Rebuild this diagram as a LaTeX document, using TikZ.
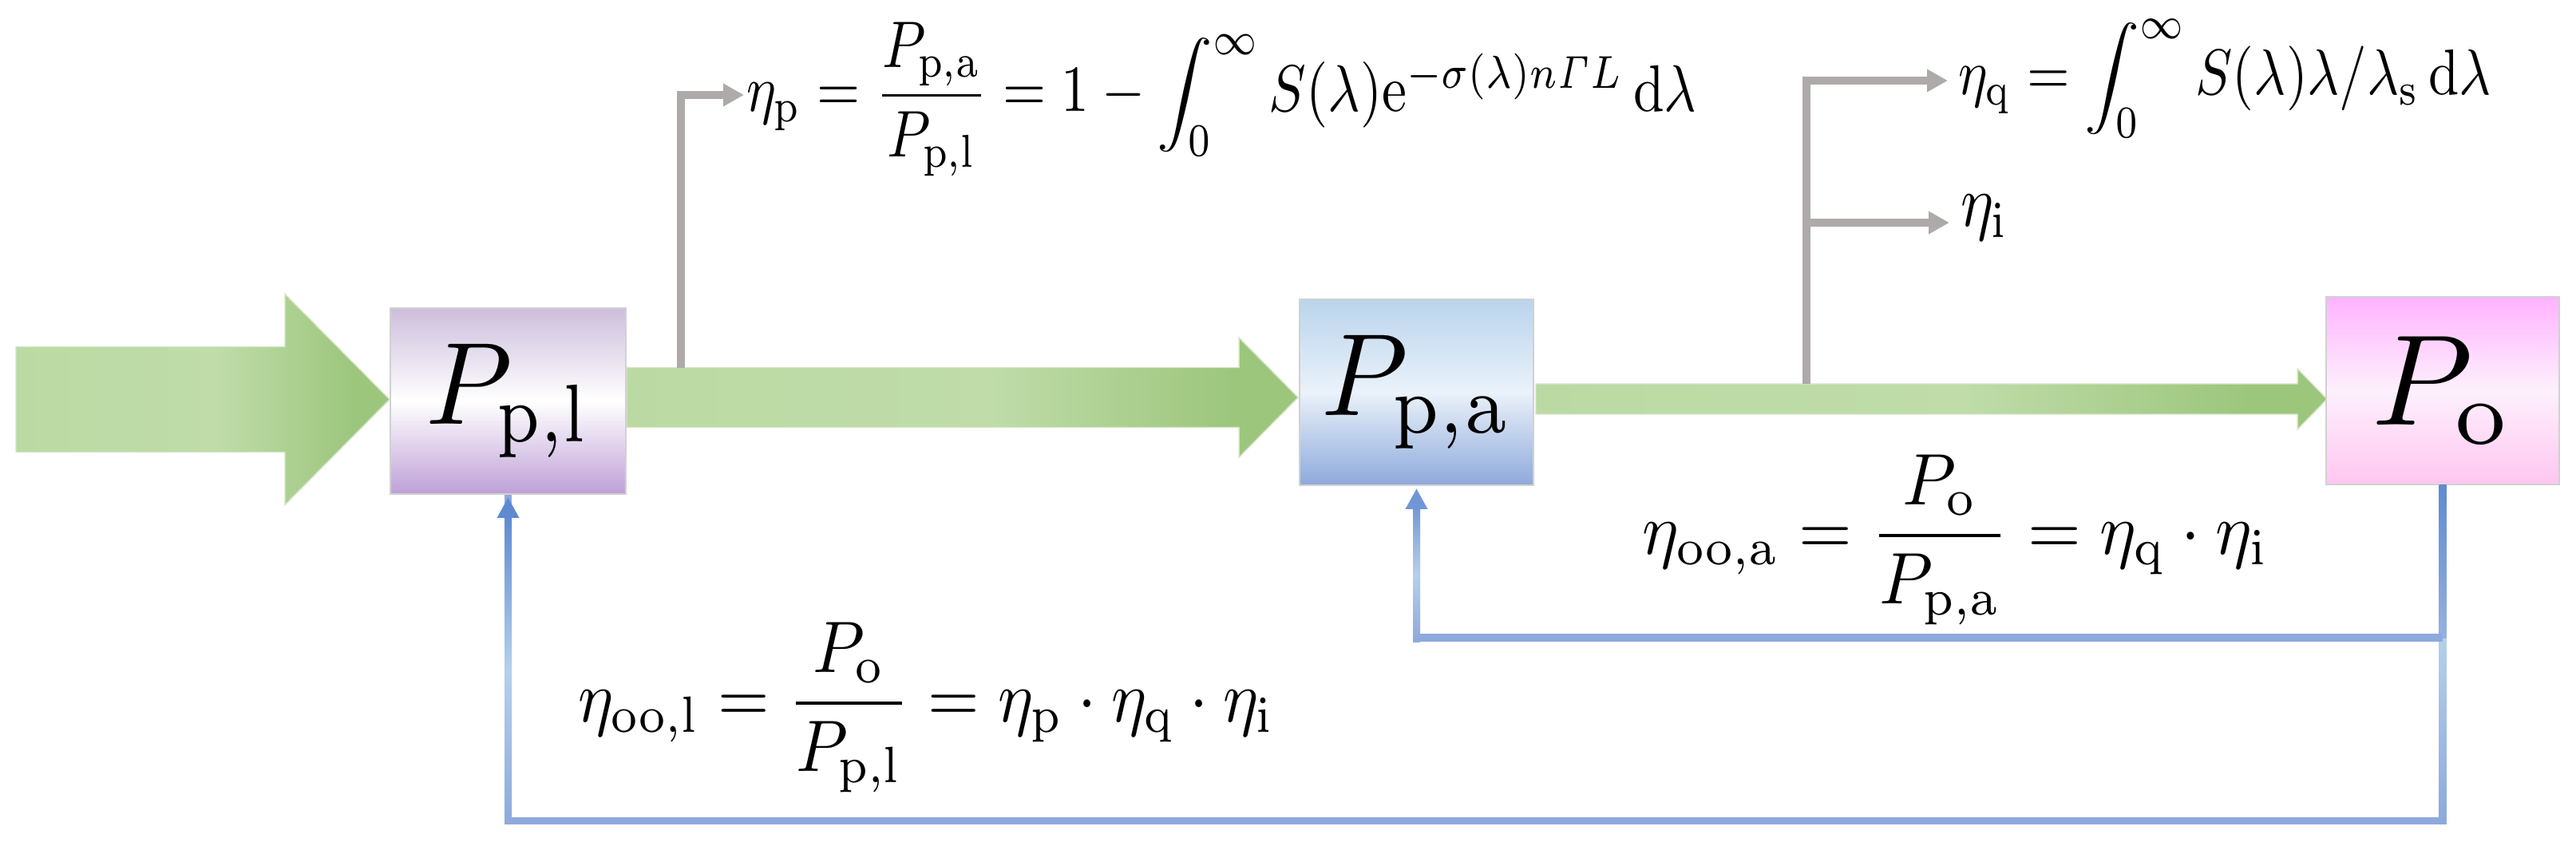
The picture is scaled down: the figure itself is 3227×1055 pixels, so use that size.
\documentclass[tikz,border=0pt]{standalone}
\usepackage{amsmath}
\usetikzlibrary{arrows.meta,calc}
\definecolor{grayline}{HTML}{AEAAAA}
\definecolor{blueTop}{HTML}{5F8AD1}
\definecolor{blueMid}{HTML}{B5D0EB}
\definecolor{blueLow}{HTML}{8EA9DB}
\definecolor{greenA}{HTML}{BBDAA3}
\definecolor{greenB}{HTML}{BFDCA9}
\definecolor{greenC}{HTML}{9DC67D}
\definecolor{greenEdge}{HTML}{D5E6C8}
\definecolor{violetTop}{RGB}{205,190,220}
\definecolor{violetLow}{RGB}{190,160,215}
\definecolor{skyTop}{RGB}{186,212,236}
\definecolor{skyMid}{RGB}{234,242,250}
\definecolor{pinkTop}{RGB}{255,179,255}
\definecolor{pinkMid}{RGB}{253,240,252}
\definecolor{pinkLow}{RGB}{255,198,240}
\pgfdeclarehorizontalshading{flowshade}{100bp}{color(0bp)=(greenA); color(25bp)=(greenA); color(52bp)=(greenB); color(70bp)=(greenC); color(100bp)=(greenC)}
\newcommand{\bigP}[4]{\scalebox{#1}[#2]{$P_{\scalebox{#3}[1]{$\scriptstyle\mathrm{#4}$}}$}}
\newcommand{\lowint}{\mathop{\vcenter{\hbox{\scalebox{1}[0.78]{$\displaystyle\int$}}}}\nolimits_{\kern-4.4pt 0}^{\infty}}
\newcommand{\flowarrow}[5]{%
  \coordinate (fu) at ($(#1)+(0,-#5)$);
  \coordinate (fd) at ($(#1)+(0,#5)$);
  \path[shading=flowshade,draw=greenEdge,line width=0.4pt]
    (#1) -- ($(#1)+(-#3,-#4)$) -- ($(#1)+(-#3,-#5)$) -- (#2 |- fu) -- (#2 |- fd)
    -- ($(#1)+(-#3,#5)$) -- ($(#1)+(-#3,#4)$) -- cycle;
}
\tikzset{
  x=0.01cm,y=-0.01cm,
  powerbox/.style={rectangle,inner sep=0pt,draw=black!18,line width=0.5pt},
  formula/.style={inner sep=0pt,anchor=base west},
  grayc/.style={draw=grayline,line width=0.1cm,-{Triangle[length=0.26cm,width=0.27cm]}},
  bluec/.style={draw=blueLow,line width=0.09cm},
  bluetip/.style={-{Triangle[length=0.26cm,width=0.26cm]},shorten >=0.03cm},
}
\begin{document}
\begin{tikzpicture}
\useasboundingbox (0,0) rectangle (3227,1055);
\coordinate (pb1) at (636.5,502.5);
\coordinate (pb2) at (1774.5,491.5);
\coordinate (pb3) at (3060,489.5);
\node[powerbox,draw=none,minimum width=2.95cm,minimum height=2.33cm] (a1) at (pb1) {};
\node[powerbox,draw=none,minimum width=2.93cm,minimum height=2.33cm] (a2) at (pb2) {};
\node[powerbox,draw=none,minimum width=2.92cm,minimum height=2.35cm] (a3) at (pb3) {};
\coordinate (start0) at (20,500);
\coordinate (t1) at ($(a1.west)+(0,-2)$);
\coordinate (t2) at ($(a2.west)+(-1,6.5)$);
\coordinate (t3) at ($(a3.west)+(2,10.5)$);
\flowarrow{t1}{start0}{131}{132}{66}
\flowarrow{t2}{a1.east}{74}{75}{37.5}
\coordinate (s3) at (1924,500);
\flowarrow{t3}{s3}{37}{38}{19}
\node[powerbox,minimum width=2.95cm,minimum height=2.33cm,top color=violetTop,bottom color=violetLow,middle color=white] (b1) at (pb1) {\bigP{3.95}{4.17}{0.88}{p,l}};
\node[powerbox,minimum width=2.93cm,minimum height=2.33cm,top color=skyTop,bottom color=blueLow,middle color=skyMid] (b2) at (pb2) {\bigP{3.95}{4.17}{0.95}{p,a}};
\node[powerbox,minimum width=2.92cm,minimum height=2.35cm,top color=pinkTop,bottom color=pinkLow,middle color=pinkMid] (b3) at (pb3) {\bigP{4.6}{4.6}{1}{o}};
\node[formula,xscale=1.98,yscale=2.35] (fp) at (934,140) {$\eta_{\mathrm{p}}=\dfrac{P_{\mathrm{p,a}}}{P_{\mathrm{p,l}}}=1-\lowint S(\lambda)\mathrm{e}^{-\sigma(\lambda)n\mathit{\Gamma}L}\,\mathrm{d}\lambda$};
\node[formula,xscale=1.96,yscale=2.3] (fq) at (2452,119) {$\eta_{\mathrm{q}}=\lowint S(\lambda)\lambda/\lambda_{\mathrm{s}}\,\mathrm{d}\lambda$};
\node[formula,xscale=2.2,yscale=2.6] (fi) at (2455,284) {$\eta_{\mathrm{i}}$};
\node[formula,xscale=2.44,yscale=2.6] (fa) at (2056,694) {$\eta_{\mathrm{oo,a}}=\dfrac{P_{\mathrm{o}}}{P_{\mathrm{p,a}}}=\eta_{\mathrm{q}}\cdot\eta_{\mathrm{i}}$};
\node[formula,xscale=2.36,yscale=2.6] (fl) at (723,904) {$\eta_{\mathrm{oo,l}}=\dfrac{P_{\mathrm{o}}}{P_{\mathrm{p,l}}}=\eta_{\mathrm{p}}\cdot\eta_{\mathrm{q}}\cdot\eta_{\mathrm{i}}$};
\coordinate (gp0) at (853,461);
\coordinate (gp1) at (932,119);
\coordinate (gq0) at (2263,481);
\coordinate (gq1) at (2440,101);
\coordinate (gi0) at (2263,279);
\coordinate (gi1) at (2442,279);
\draw[grayc] (gp0) |- (gp1);
\draw[grayc] (gq0) |- (gq1);
\draw[grayc] (gi0) -- (gi1);
\coordinate (c1) at (636.5,1028);
\coordinate (c2) at (1774.5,799);
\coordinate (j1) at (3060,799);
\draw[bluec] (b3.south) |- (c1) -- (b1.south);
\shade[top color=blueTop,bottom color=blueLow,middle color=blueMid] ($(b1.south)+(-4.5,25)$) rectangle ($(c1)+(4.5,4.5)$);
\shade[top color=blueMid,bottom color=blueLow] ($(j1)+(-4.5,0)$) rectangle (3064.5,1028);
\shade[top color=blueTop,bottom color=blueLow!80!blueMid] ($(b3.south)+(-4.5,0)$) rectangle ($(j1)+(4.5,0)$);
\draw[bluec,line width=0.1cm] (j1) -- (c2);
\shade[top color=blueTop!60!blueLow,bottom color=blueLow,middle color=blueMid] ($(b2.south)+(-4.5,25)$) rectangle ($(c2)+(4.5,5)$);
\draw[bluec,bluetip,draw=blueTop] ($(b1.south)+(0,30)$) -- (b1.south);
\draw[bluec,bluetip,draw=blueTop!60!blueLow] ($(b2.south)+(0,30)$) -- (b2.south);
\end{tikzpicture}
\end{document}
